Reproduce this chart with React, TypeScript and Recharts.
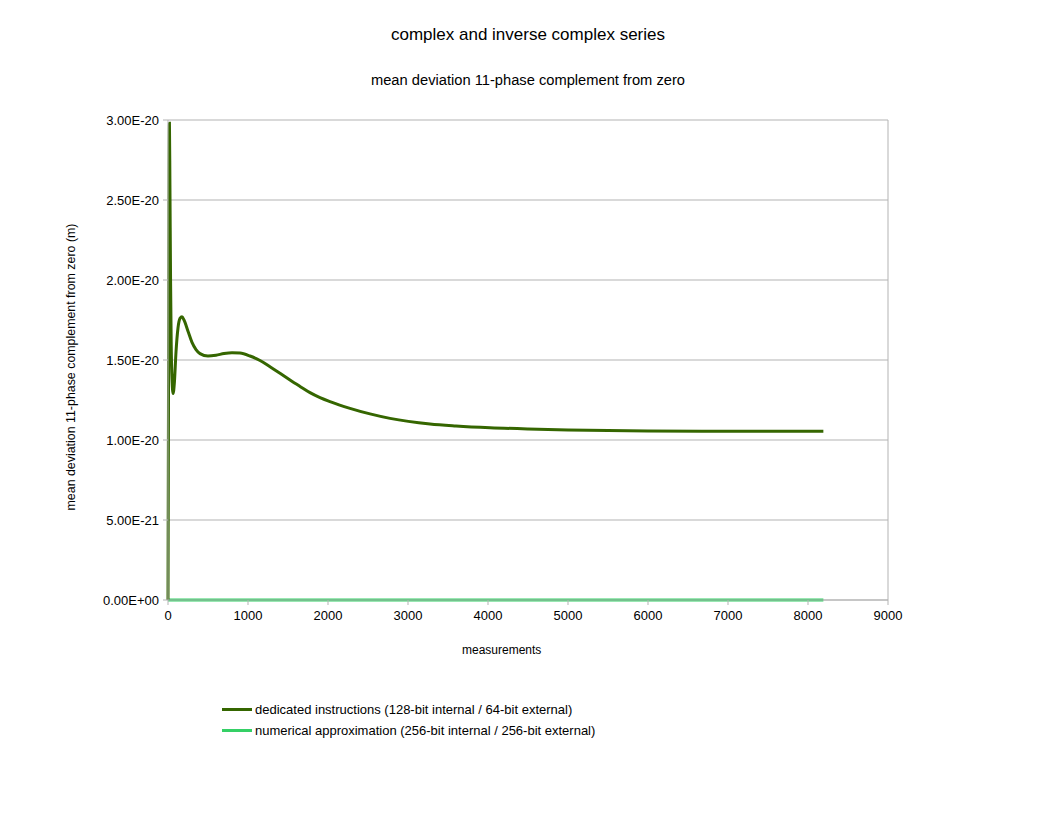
import { LineChart, Line, XAxis, YAxis, CartesianGrid, ReferenceLine } from 'recharts'

// measurement index (x) and mean deviation in units of 1E-20 m
const dedicatedX = [
  0, 4, 8, 12, 18, 24, 32, 40, 50, 64, 80, 100, 125, 150, 175, 200, 250, 300, 350, 400,
  500, 600, 700, 800, 900, 1025, 1150, 1275, 1400, 1525, 1650, 1775, 1900, 2025, 2275,
  2525, 2775, 3275, 3600, 4025, 4500, 5000, 5500, 6000, 7000, 8192,
]
const dedicatedY = [
  0, 0.8, 1.6, 2.4, 2.98, 2.6, 2.0, 1.6, 1.38, 1.29, 1.36, 1.55, 1.7, 1.76, 1.77, 1.75,
  1.68, 1.61, 1.565, 1.54, 1.525, 1.53, 1.54, 1.545, 1.543, 1.525, 1.497, 1.458, 1.417,
  1.375, 1.335, 1.296, 1.265, 1.24, 1.198, 1.163, 1.135, 1.1, 1.088, 1.077, 1.069, 1.063,
  1.059, 1.057, 1.055, 1.055,
]
const numericalX = [0, 1000, 2000, 3000, 4000, 5000, 6000, 7000, 8192]
const numericalY = [0, 0, 0, 0, 0, 0, 0, 0, 0]

const xTicks = [0, 1000, 2000, 3000, 4000, 5000, 6000, 7000, 8000, 9000]
const yTicks = [0, 0.5e-20, 1e-20, 1.5e-20, 2e-20, 2.5e-20, 3e-20]

const seriesNames = [
  'dedicated instructions (128-bit internal / 64-bit external)',
  'numerical approximation (256-bit internal / 256-bit external)',
]
const seriesColors = ['#356600', '#35d066']

const dedicatedData = dedicatedX.map((x, i) => ({ x, v: dedicatedY[i] * 1e-20 }))
const numericalData = numericalX.map((x, i) => ({ x, v: numericalY[i] * 1e-20 }))

const fmtExp = (v: number) => {
  const [m, e] = v.toExponential(2).toUpperCase().split('E')
  const sign = e.startsWith('-') ? '-' : '+'
  const digits = e.replace(/[+-]/, '').padStart(2, '0')
  return `${m}E${sign}${digits}`
}

const font = '"Liberation Sans", Arial, sans-serif'
const grey = '#b3b3b3'

export default function App() {
  return (
    <div style={{ position: 'absolute', left: 0, top: 0, width: 1056, height: 816, background: '#fff', fontFamily: font }}>
      <div style={{ position: 'absolute', top: 25, width: 1056, textAlign: 'center', fontSize: 17 }}>
        complex and inverse complex series
      </div>
      <div style={{ position: 'absolute', top: 72, width: 1056, textAlign: 'center', fontSize: 14.7 }}>
        mean deviation 11-phase complement from zero
      </div>
      <LineChart
        width={1056}
        height={816}
        margin={{ top: 120, right: 168, bottom: 186, left: 0 }}
        style={{ position: 'absolute', left: 0, top: 0 }}
      >
        <CartesianGrid vertical={false} stroke={grey} horizontalValues={yTicks} />
        <XAxis
          type="number"
          dataKey="x"
          domain={[0, 9000]}
          ticks={xTicks}
          height={30}
          stroke={grey}
          tickSize={5}
          tickMargin={6}
          tick={{ fill: '#000', fontSize: 13, fontFamily: font }}
        />
        <YAxis
          type="number"
          dataKey="v"
          domain={[0, 3e-20]}
          ticks={yTicks}
          width={168}
          stroke={grey}
          tickSize={5}
          tickMargin={4}
          tickFormatter={fmtExp}
          tick={{ fill: '#000', fontSize: 13, fontFamily: font }}
        />
        <ReferenceLine x={9000} stroke={grey} />
        <Line
          data={numericalData}
          dataKey="v"
          type="linear"
          stroke={seriesColors[1]}
          strokeWidth={3}
          dot={false}
          isAnimationActive={false}
        />
        <Line
          data={dedicatedData}
          dataKey="v"
          type="monotone"
          stroke={seriesColors[0]}
          strokeWidth={3}
          dot={false}
          isAnimationActive={false}
        />
      </LineChart>
      <div
        style={{
          position: 'absolute',
          left: 71,
          top: 367,
          transform: 'translate(-50%, -50%) rotate(-90deg)',
          whiteSpace: 'nowrap',
          fontSize: 12.4,
        }}
      >
        mean deviation 11-phase complement from zero (m)
      </div>
      <div style={{ position: 'absolute', top: 643, left: 462, fontSize: 12 }}>measurements</div>
      <div style={{ position: 'absolute', left: 222, top: 699, fontSize: 13 }}>
        {seriesNames.map((name, i) => (
          <div key={name} style={{ display: 'flex', alignItems: 'center', height: 21 }}>
            <span style={{ display: 'inline-block', width: 30, height: 3, background: seriesColors[i], marginRight: 3 }} />
            {name}
          </div>
        ))}
      </div>
    </div>
  )
}
